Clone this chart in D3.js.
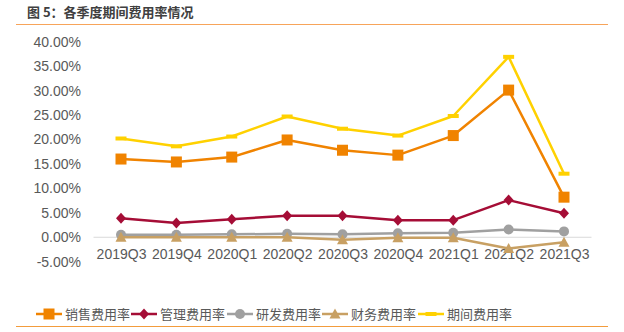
<!DOCTYPE html>
<html><head><meta charset="utf-8">
<script src="https://cdn.jsdelivr.net/npm/d3@7"></script>
<style>body{margin:0;background:#fff}svg{display:block}</style>
</head><body>
<script>
const categories = ["2019Q3","2019Q4","2020Q1","2020Q2","2020Q3","2020Q4","2021Q1","2021Q2","2021Q3"];
const salesRate  = [16.0, 15.4, 16.4, 19.9, 17.8, 16.8, 20.8, 30.1, 8.2];
const mgmtRate   = [3.9, 2.9, 3.7, 4.4, 4.4, 3.5, 3.5, 7.6, 4.9];
const rdRate     = [0.5, 0.5, 0.6, 0.7, 0.6, 0.8, 0.9, 1.6, 1.2];
const finRate    = [0.0, 0.0, 0.0, 0.0, -0.5, -0.1, -0.1, -2.3, -1.0];
const periodRate = [20.2, 18.6, 20.6, 24.7, 22.2, 20.8, 24.8, 36.9, 13.0];
const yTicks = [-5, 0, 5, 10, 15, 20, 25, 30, 35, 40];
const seriesNames = ["销售费用率","管理费用率","研发费用率","财务费用率","期间费用率"];

const W = 624, H = 332;
const svg = d3.select("body").append("svg").attr("width", W).attr("height", H);
const font = "'Liberation Sans', Arial, 'Noto Sans CJK SC', sans-serif";
const cjk = "'Noto Sans CJK SC', 'Liberation Sans', sans-serif";

// Title
svg.append("text").attr("x", 27).attr("y", 17).text("图 5：各季度期间费用率情况")
  .attr("font-family", cjk).attr("font-size", 13).attr("font-weight", "bold").attr("fill", "#404040");
svg.append("line").attr("x1", 16).attr("x2", 608).attr("y1", 24.5).attr("y2", 24.5)
  .attr("stroke", "#F7A45A").attr("stroke-width", 1.2);
svg.append("line").attr("x1", 16).attr("x2", 608).attr("y1", 326.5).attr("y2", 326.5)
  .attr("stroke", "#F39C3C").attr("stroke-width", 1.2);

const x = d3.scalePoint().domain(categories).range([121, 564]);
const y = d3.scaleLinear().domain([-5, 40]).range([261.7, 41.7]);

// y axis labels
const yAxis = d3.axisLeft(y).tickValues(yTicks).tickSize(0).tickPadding(0)
  .tickFormat(d => d.toFixed(2) + "%");
const ga = svg.append("g").attr("transform", "translate(81,0)").call(yAxis);
ga.select(".domain").remove();
ga.selectAll("text").attr("font-family", font).attr("font-size", 14).attr("fill", "#595959");

// zero line
svg.append("line").attr("x1", 93.5).attr("x2", 591.5).attr("y1", y(0)).attr("y2", y(0))
  .attr("stroke", "#D9D9D9").attr("stroke-width", 1);

// x axis labels
const xAxis = d3.axisBottom(x).tickSize(0).tickPadding(0);
const gx = svg.append("g").attr("transform", `translate(0,${y(0)})`).call(xAxis);
gx.select(".domain").remove();
gx.selectAll("text").attr("dy", "0").attr("y", 21.7)
  .attr("font-family", font).attr("font-size", 14).attr("fill", "#595959");

const series = [
  {name: seriesNames[0], values: salesRate, color: "#F08300", marker: "square"},
  {name: seriesNames[1], values: mgmtRate, color: "#A50D36", marker: "diamond"},
  {name: seriesNames[2], values: rdRate, color: "#A0A0A0", marker: "circle"},
  {name: seriesNames[3], values: finRate, color: "#C8A063", marker: "triangle"},
  {name: seriesNames[4], values: periodRate, color: "#FFD100", marker: "dash"}
];

function drawMarker(g, type, color, cx, cy) {
  if (type === "square") {
    g.append("rect").attr("x", cx - 5.5).attr("y", cy - 5.5).attr("width", 11).attr("height", 11).attr("fill", color);
  } else if (type === "diamond") {
    g.append("path").attr("d", `M${cx},${cy-5.5}L${cx+5},${cy}L${cx},${cy+5.5}L${cx-5},${cy}Z`).attr("fill", color);
  } else if (type === "circle") {
    g.append("circle").attr("cx", cx).attr("cy", cy).attr("r", 5).attr("fill", color);
  } else if (type === "triangle") {
    g.append("path").attr("d", `M${cx},${cy-5.5}L${cx+5.5},${cy+4.5}L${cx-5.5},${cy+4.5}Z`).attr("fill", color);
  } else if (type === "dash") {
    g.append("rect").attr("x", cx - 5.5).attr("y", cy - 2).attr("width", 11).attr("height", 4).attr("fill", color);
  }
}

const line = d3.line().x((d, i) => x(categories[i])).y(d => y(d));
series.forEach(s => {
  const g = svg.append("g");
  g.append("path").datum(s.values).attr("d", line).attr("fill", "none")
    .attr("stroke", s.color).attr("stroke-width", 2.5).attr("stroke-linejoin", "round");
  s.values.forEach((v, i) => drawMarker(g, s.marker, s.color, x(categories[i]), y(v)));
});

// Legend
const legendX = [36, 131, 227, 322, 418];
series.forEach((s, i) => {
  const g = svg.append("g");
  const lx = legendX[i], ly = 314;
  g.append("line").attr("x1", lx).attr("x2", lx + 26).attr("y1", ly).attr("y2", ly)
    .attr("stroke", s.color).attr("stroke-width", 2.5);
  drawMarker(g, s.marker, s.color, lx + 13, ly);
  g.append("text").attr("x", lx + 29).attr("y", ly + 4.5).text(s.name)
    .attr("font-family", cjk).attr("font-size", 13).attr("fill", "#595959");
});
</script>
</body></html>
